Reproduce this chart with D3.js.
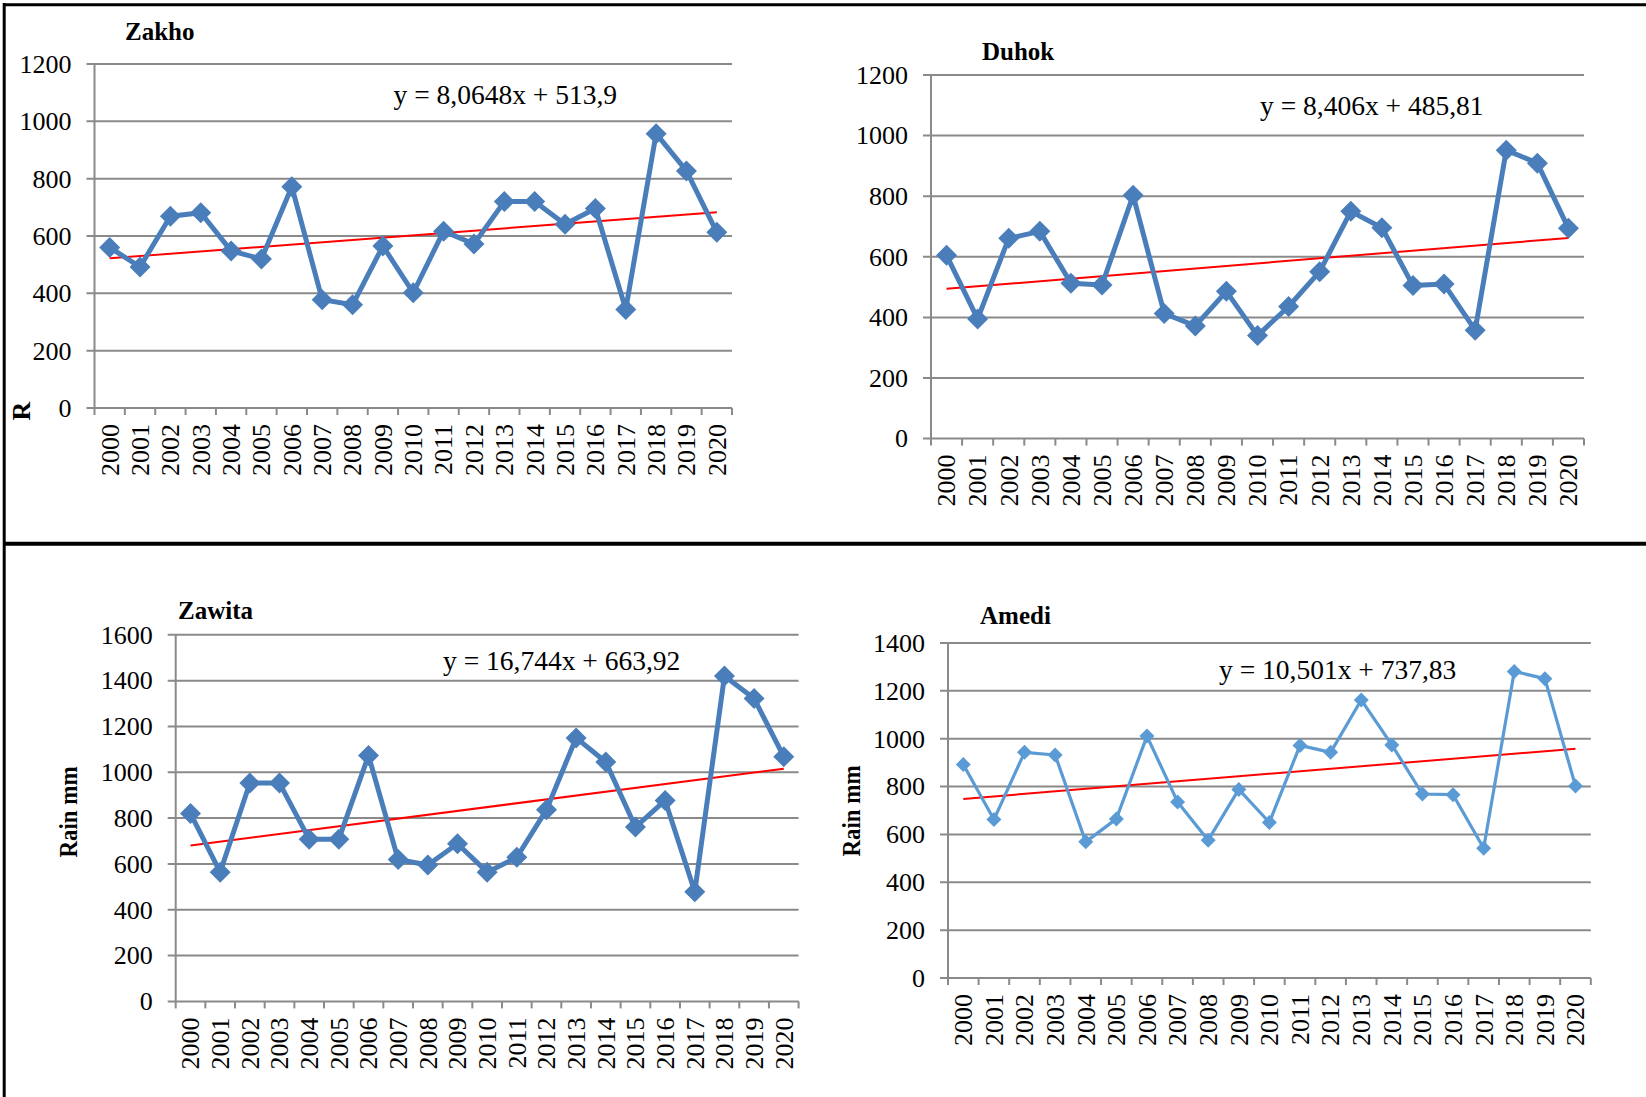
<!DOCTYPE html>
<html>
<head>
<meta charset="utf-8">
<script src="https://cdn.jsdelivr.net/npm/d3@7"></script>
<style>
  body { margin: 0; background: #fff; }
  svg { display: block; }
  text { font-family: "Liberation Serif", "Times New Roman", serif; fill: #000; }
</style>
</head>
<body>
<svg id="fig" width="1646" height="1097"></svg>
<script>
// Annual rainfall (mm), 2000–2020, four stations
const years = ["2000","2001","2002","2003","2004","2005","2006","2007","2008","2009","2010",
               "2011","2012","2013","2014","2015","2016","2017","2018","2019","2020"];

const zakho  = [560, 492, 669, 681, 548, 520, 772, 378, 360, 565, 402, 617, 572, 720, 720, 641, 696, 344, 957, 827, 613];
const duhok  = [605, 395, 661, 684, 513, 507, 803, 413, 372, 486, 340, 436, 551, 750, 696, 505, 510, 358, 952, 909, 694];
const zawita = [820, 564, 953, 953, 708, 708, 1073, 619, 595, 688, 564, 629, 836, 1150, 1045, 761, 877, 479, 1420, 1322, 1068];
const amedi  = [892, 662, 943, 932, 569, 665, 1011, 736, 576, 788, 650, 972, 943, 1162, 974, 769, 766, 542, 1281, 1251, 802];

// Linear trend coefficients (slope, intercept) over x = 1..21
const zakhoTrend  = [8.0648, 513.9];
const duhokTrend  = [8.406, 485.81];
const zawitaTrend = [16.744, 663.92];
const amediTrend  = [10.501, 737.83];

const zakhoTicks  = [0, 200, 400, 600, 800, 1000, 1200];
const duhokTicks  = [0, 200, 400, 600, 800, 1000, 1200];
const zawitaTicks = [0, 200, 400, 600, 800, 1000, 1200, 1400, 1600];
const amediTicks  = [0, 200, 400, 600, 800, 1000, 1200, 1400];

const stationNames = ["Zakho", "Duhok", "Zawita", "Amedi"];
const equations = ["y = 8,0648x + 513,9", "y = 8,406x + 485,81", "y = 16,744x + 663,92", "y = 10,501x + 737,83"];
const axisTitles = ["R", "", "Rain mm", "Rain mm"];

// Panel geometry and styling
const panels = [
  { values: zakho,  trend: zakhoTrend,  ticks: zakhoTicks,
    left: 94.5, right: 732, top: 64, bottom: 408,
    title: [125, 39.5], eq: [393.6, 103.6], yTitle: [21, 411],
    color: "#4a7ebb", lw: 5, marker: 10.5 },
  { values: duhok,  trend: duhokTrend,  ticks: duhokTicks,
    left: 931, right: 1584, top: 75, bottom: 438.6,
    title: [982, 60], eq: [1260, 114.7], yTitle: null,
    color: "#4a7ebb", lw: 5, marker: 10.5 },
  { values: zawita, trend: zawitaTrend, ticks: zawitaTicks,
    left: 175.7, right: 798.6, top: 634.8, bottom: 1001.4,
    title: [178, 619], eq: [443, 669.7], yTitle: [68, 812],
    color: "#4a7ebb", lw: 5, marker: 10.5 },
  { values: amedi,  trend: amediTrend,  ticks: amediTicks,
    left: 948, right: 1590.8, top: 643, bottom: 978,
    title: [980, 624], eq: [1219, 679], yTitle: [851.5, 811],
    color: "#5b9bd5", lw: 3.2, marker: 7.5 }
];

const svg = d3.select("#fig");
svg.append("rect").attr("width", 1646).attr("height", 1097).attr("fill", "#fff");

// Figure frame: top edge, left edge, and horizontal divider between rows
svg.append("line").attr("x1", 3).attr("x2", 1646).attr("y1", 4.7).attr("y2", 4.7)
  .attr("stroke", "#000").attr("stroke-width", 3);
svg.append("line").attr("x1", 4.2).attr("x2", 4.2).attr("y1", 3).attr("y2", 1097)
  .attr("stroke", "#000").attr("stroke-width", 3);
svg.append("line").attr("x1", 4).attr("x2", 1646).attr("y1", 543.7).attr("y2", 543.7)
  .attr("stroke", "#000").attr("stroke-width", 4);

const gridColor = "#8a8a8a";
const tickFs = 26;

panels.forEach((p, i) => {
  const g = svg.append("g");
  const x = d3.scaleBand().domain(years).range([p.left, p.right]).padding(0);
  const y = d3.scaleLinear().domain([0, d3.max(p.ticks)]).range([p.bottom, p.top]);
  const bw = x.bandwidth();
  const cx = yr => x(yr) + bw / 2;

  // horizontal gridlines with outer tick stubs
  g.selectAll(".grid").data(p.ticks).join("line")
    .attr("x1", p.left - 8).attr("x2", p.right)
    .attr("y1", d => y(d)).attr("y2", d => y(d))
    .attr("stroke", gridColor).attr("stroke-width", 2);

  // vertical axis line
  g.append("line").attr("x1", p.left).attr("x2", p.left)
    .attr("y1", y(d3.max(p.ticks))).attr("y2", p.bottom)
    .attr("stroke", gridColor).attr("stroke-width", 2);

  // category boundary ticks under the horizontal axis
  const bounds = years.map(yr => x(yr)).concat([p.right]);
  g.selectAll(".xt").data(bounds).join("line")
    .attr("x1", d => d).attr("x2", d => d)
    .attr("y1", p.bottom).attr("y2", p.bottom + 7)
    .attr("stroke", gridColor).attr("stroke-width", 2);

  // y tick labels
  g.selectAll(".yl").data(p.ticks).join("text")
    .attr("x", p.left - 23).attr("y", d => y(d) + tickFs * 0.34)
    .attr("text-anchor", "end").attr("font-size", tickFs)
    .text(d => d);

  // rotated year labels
  g.selectAll(".xl").data(years).join("text")
    .attr("transform", d => `translate(${cx(d) + tickFs * 0.34},${p.bottom + 16}) rotate(-90)`)
    .attr("text-anchor", "end").attr("font-size", tickFs)
    .text(d => d);

  // trend line from equation
  const [a, b] = p.trend;
  const trendPts = [0, years.length - 1].map(k => [cx(years[k]), y(a * (k + 1) + b)]);
  g.append("line")
    .attr("x1", trendPts[0][0]).attr("y1", trendPts[0][1])
    .attr("x2", trendPts[1][0]).attr("y2", trendPts[1][1])
    .attr("stroke", "#ff0000").attr("stroke-width", 2);

  // series line
  const data = years.map((yr, k) => ({ yr, v: p.values[k] }));
  g.append("path").datum(data)
    .attr("fill", "none").attr("stroke", p.color).attr("stroke-width", p.lw)
    .attr("stroke-linejoin", "round")
    .attr("d", d3.line().x(d => cx(d.yr)).y(d => y(d.v)));

  // diamond markers
  const sym = d3.symbol().type(d3.symbolSquare).size(2 * p.marker * p.marker);
  g.selectAll(".mk").data(data).join("path")
    .attr("transform", d => `translate(${cx(d.yr)},${y(d.v)}) rotate(45)`)
    .attr("d", sym).attr("fill", p.color);

  // station title
  g.append("text").attr("x", p.title[0]).attr("y", p.title[1])
    .attr("font-size", 25).attr("font-weight", "bold").text(stationNames[i]);

  // trend equation
  g.append("text").attr("x", p.eq[0]).attr("y", p.eq[1])
    .attr("font-size", 27.5).text(equations[i]);

  // vertical axis title
  if (p.yTitle && axisTitles[i]) {
    const t = g.append("text")
      .attr("transform", `translate(${p.yTitle[0]},${p.yTitle[1]}) rotate(-90)`)
      .attr("text-anchor", "middle").attr("dominant-baseline", "central")
      .attr("font-size", 26).attr("font-weight", "bold").text(axisTitles[i]);
    if (axisTitles[i].length > 1) t.attr("textLength", 91).attr("lengthAdjust", "spacingAndGlyphs");
  }
});
</script>
</body>
</html>
